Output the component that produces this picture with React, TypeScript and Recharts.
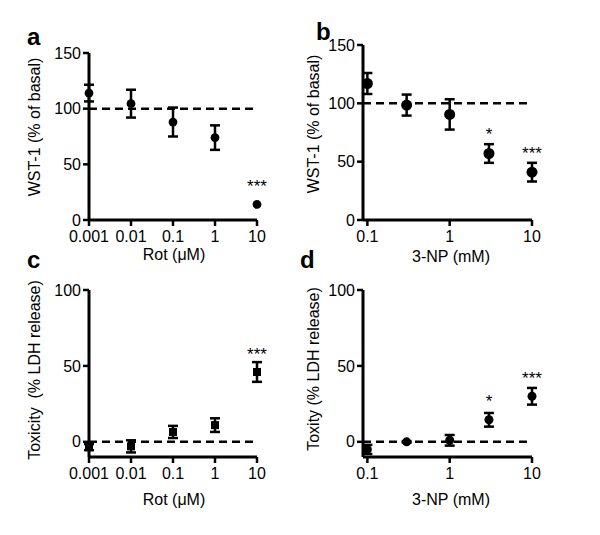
import {
  ErrorBar,
  ReferenceDot,
  ReferenceLine,
  Scatter,
  ScatterChart,
  XAxis,
  YAxis,
} from "recharts";

const FONT = '"Liberation Sans", Arial, Helvetica, sans-serif';

// doses
const rotDoses = [0.001, 0.01, 0.1, 1, 10];
const npDoses = [0.1, 0.3, 1, 3, 10];

// tick labels
const rotTicks = [0.001, 0.01, 0.1, 1, 10];
const npTicks = [0.1, 1, 10];
const wstTicks = [0, 50, 100, 150];
const ldhTicks = [0, 50, 100];

// WST-1 (% of basal), mean and SEM
const wstRotMean = [114, 104.5, 88, 74, 14];
const wstRotSem = [7.5, 12.5, 13, 11, 0];
const wstRotSig = ["", "", "", "", "***"];
const wstNpMean = [117, 98.5, 90.5, 57, 41];
const wstNpSem = [9, 9, 13, 8, 8];
const wstNpSig = ["", "", "", "*", "***"];

// LDH release (% toxicity), mean and SEM
const ldhRotMean = [-3.5, -3, 6.5, 11, 46];
const ldhRotSem = [2, 4, 4, 4.5, 6.5];
const ldhRotSig = ["", "", "", "", "***"];
const ldhNpMean = [-5, 0, 1, 14.5, 30];
const ldhNpSem = [3, 0.5, 3.5, 4.5, 5.5];
const ldhNpSig = ["", "", "", "*", "***"];

type Pt = { x: number; y: number; err: number; sig: string };

const build = (xs: number[], ys: number[], es: number[], sig: string[]): Pt[] =>
  xs.map((x, i) => ({ x, y: ys[i], err: es[i], sig: sig[i] }));

type Box = { left: number; right: number; top: number; bottom: number };

interface PanelProps {
  box: Box;
  data: Pt[];
  xDomain: [number, number];
  xTicks: number[];
  yDomain: [number, number];
  yTicks: number[];
  refY: number;
  marker: "circle" | "square";
  markerSize: number;
}

const YW = 60;
const XH = 40;
const PAD_T = 10;
const PAD_R = 10;

const axisLine = { stroke: "#000", strokeWidth: 3 };
const tickLine = { stroke: "#000", strokeWidth: 2.5 };
const tickStyle = { fill: "#000", fontSize: 16, fontFamily: FONT };

function Panel({ box, data, xDomain, xTicks, yDomain, yTicks, refY, marker, markerSize }: PanelProps) {
  const plotW = box.right - box.left;
  const plotH = box.bottom - box.top;
  const pxPerUnit = plotH / (yDomain[1] - yDomain[0]);
  const half = marker === "circle" ? markerSize : markerSize / 2;

  const shape = (p: any) =>
    marker === "circle" ? (
      <circle cx={p.cx} cy={p.cy} r={markerSize} fill="#000" />
    ) : (
      <rect x={p.cx - markerSize / 2} y={p.cy - markerSize / 2} width={markerSize} height={markerSize} fill="#000" />
    );

  const stars = data.filter((d) => d.sig);

  return (
    <div style={{ position: "absolute", left: box.left - YW, top: box.top - PAD_T }}>
      <ScatterChart
        width={plotW + YW + PAD_R}
        height={plotH + PAD_T + XH}
        margin={{ top: PAD_T, right: PAD_R, bottom: 0, left: 0 }}
      >
        <XAxis
          type="number"
          dataKey="x"
          scale="log"
          domain={xDomain}
          ticks={xTicks}
          interval={0}
          height={XH}
          axisLine={axisLine}
          tickLine={tickLine}
          tickSize={6}
          tickMargin={5}
          tick={tickStyle}
        />
        <YAxis
          type="number"
          dataKey="y"
          domain={yDomain}
          ticks={yTicks}
          interval={0}
          width={YW}
          axisLine={axisLine}
          tickLine={tickLine}
          tickSize={6}
          tickMargin={2}
          tick={tickStyle}
        />
        <ReferenceLine y={refY} stroke="#000" strokeWidth={2.5} strokeDasharray="8 5" />
        <Scatter data={data} shape={shape} isAnimationActive={false}>
          <ErrorBar dataKey="err" direction="y" width={5} stroke="#000" strokeWidth={2.5} />
        </Scatter>
        {stars.map((d) => (
          <ReferenceDot
            key={d.x}
            x={d.x}
            y={Math.max(d.y + d.err, d.y + (half + 6) / pxPerUnit)}
            r={1}
            fill="none"
            stroke="none"
            label={(lp: any) => {
              const vb = lp.viewBox;
              return (
                <text
                  x={vb.x + vb.width / 2}
                  y={vb.y + vb.height / 2 - 2}
                  textAnchor="middle"
                  fontSize={17}
                  fontFamily={FONT}
                  fill="#000"
                >
                  {d.sig}
                </text>
              );
            }}
          />
        ))}
      </ScatterChart>
    </div>
  );
}

const boxA: Box = { left: 89, right: 257, top: 53, bottom: 220 };
const boxB: Box = { left: 363, right: 532, top: 45, bottom: 220 };
const boxC: Box = { left: 89, right: 257, top: 290, bottom: 457 };
const boxD: Box = { left: 363, right: 532, top: 290, bottom: 457 };

const yTitle = (text: string, x: number, y: number) => (
  <text
    x={x}
    y={y}
    transform={`rotate(-90 ${x} ${y})`}
    textAnchor="middle"
    fontSize={16}
    fontFamily={FONT}
    fill="#000"
    style={{ whiteSpace: "pre" }}
  >
    {text}
  </text>
);

const xTitle = (text: string, x: number, y: number) => (
  <text x={x} y={y} textAnchor="middle" fontSize={16} fontFamily={FONT} fill="#000">
    {text}
  </text>
);

const letter = (text: string, x: number, y: number) => (
  <text x={x} y={y} fontSize={24} fontWeight="bold" fontFamily={FONT} fill="#000">
    {text}
  </text>
);

export default function App() {
  return (
    <div style={{ position: "absolute", left: 0, top: 0, width: 600, height: 535, background: "#fff" }}>
      <svg width={600} height={535} style={{ position: "absolute", left: 0, top: 0 }}>
        {letter("a", 27, 45)}
        {letter("b", 316, 40)}
        {letter("c", 27, 268)}
        {letter("d", 300, 268)}
        {yTitle("WST-1 (% of basal)", boxA.left - 49, 127)}
        {yTitle("WST-1 (% of basal)", boxB.left - 44, 124)}
        {yTitle("Toxicity  (% LDH release)", boxC.left - 49, 370)}
        {yTitle("Toxity (% LDH release)", boxD.left - 44, 369)}
        {xTitle("Rot (\u03bcM)", 174, boxA.bottom + 40)}
        {xTitle("3-NP (mM)", 451, boxB.bottom + 42)}
        {xTitle("Rot (\u03bcM)", 174, boxC.bottom + 48)}
        {xTitle("3-NP (mM)", 451, boxD.bottom + 48)}
      </svg>
      <Panel
        box={boxA}
        data={build(rotDoses, wstRotMean, wstRotSem, wstRotSig)}
        xDomain={[0.001, 10]}
        xTicks={rotTicks}
        yDomain={[0, 150]}
        yTicks={wstTicks}
        refY={100}
        marker="circle"
        markerSize={4.4}
      />
      <Panel
        box={boxB}
        data={build(npDoses, wstNpMean, wstNpSem, wstNpSig)}
        xDomain={[0.0885, 10]}
        xTicks={npTicks}
        yDomain={[0, 150]}
        yTicks={wstTicks}
        refY={100}
        marker="circle"
        markerSize={5.5}
      />
      <Panel
        box={boxC}
        data={build(rotDoses, ldhRotMean, ldhRotSem, ldhRotSig)}
        xDomain={[0.001, 10]}
        xTicks={rotTicks}
        yDomain={[-10, 100]}
        yTicks={ldhTicks}
        refY={0}
        marker="square"
        markerSize={8}
      />
      <Panel
        box={boxD}
        data={build(npDoses, ldhNpMean, ldhNpSem, ldhNpSig)}
        xDomain={[0.0885, 10]}
        xTicks={npTicks}
        yDomain={[-10, 100]}
        yTicks={ldhTicks}
        refY={0}
        marker="circle"
        markerSize={4.5}
      />
    </div>
  );
}
